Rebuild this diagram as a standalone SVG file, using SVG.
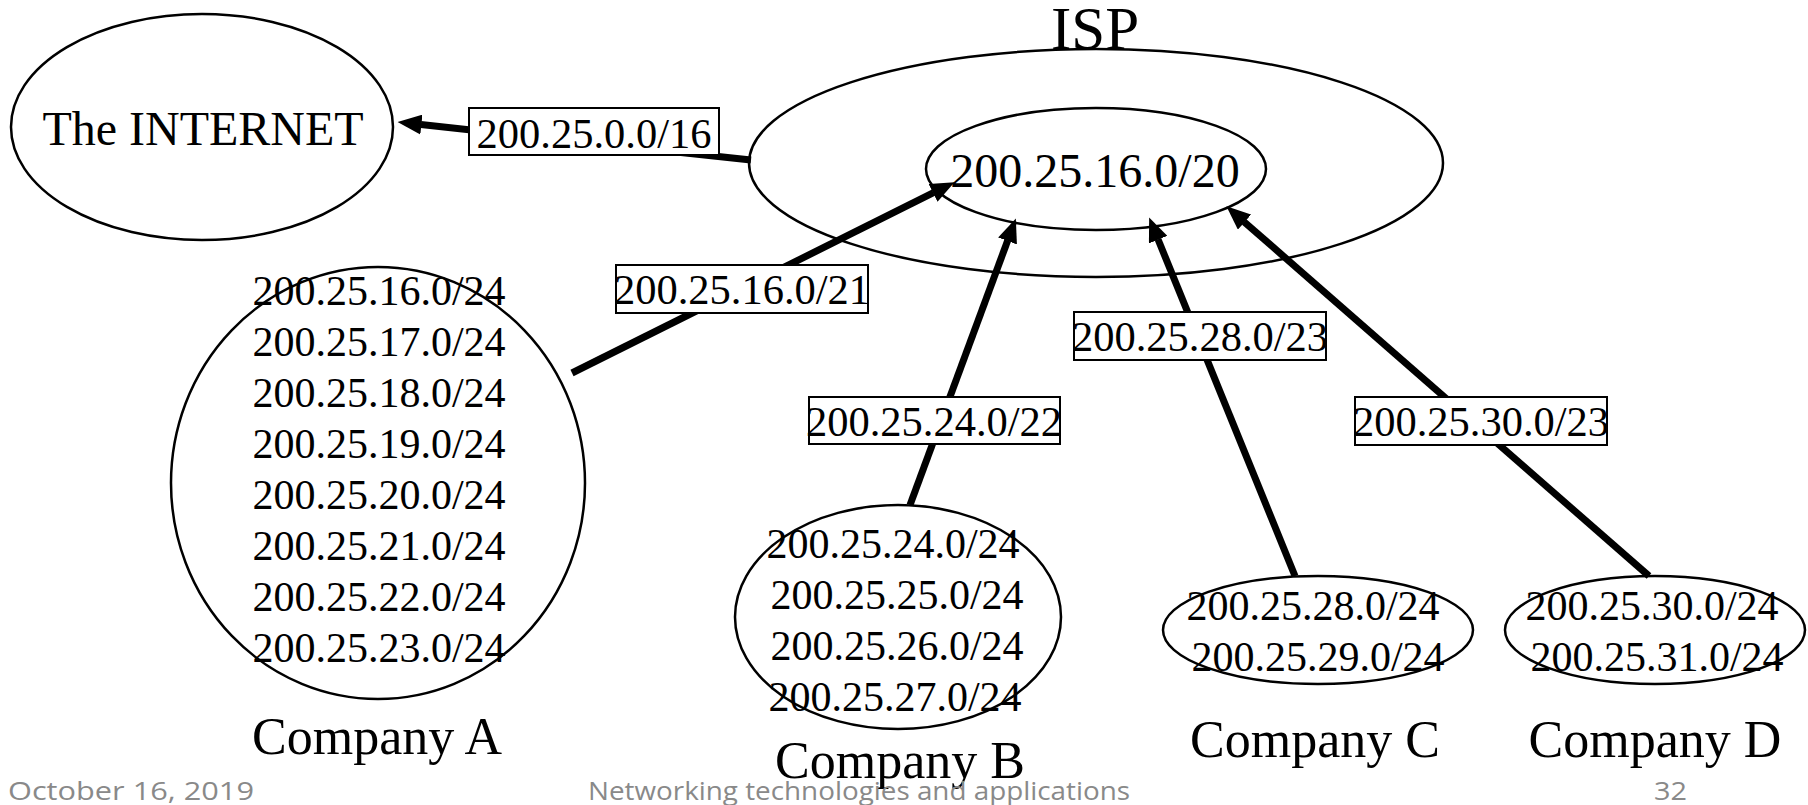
<svg xmlns="http://www.w3.org/2000/svg" width="1808" height="805" viewBox="0 0 1808 805">
<style>
  .ell { fill: none; stroke: #000; stroke-width: 2.5; }
  .t { font-family: "Liberation Serif", "Times New Roman", serif; fill: #000; text-anchor: middle; }
  .big { font-size: 48px; }
  .isp { font-size: 61px; }
  .row { font-size: 42px; }
  .co { font-size: 52px; }
  .lbl { fill: #fff; stroke: #000; stroke-width: 2; }
  .lt { font-size: 42.5px; }
  .conn { stroke: #000; stroke-width: 7; fill: none; marker-end: url(#ah); }
  .foot { font-family: "Open Sans", "Liberation Sans", sans-serif; font-size: 26px; fill: #898989; }
</style>
<defs>
  <marker id="ah" markerUnits="userSpaceOnUse" markerWidth="24" markerHeight="20" viewBox="0 0 24 20" refX="0.5" refY="10" orient="auto">
    <path d="M0,0 L24,10 L0,20 Z" fill="#000"/>
  </marker>
</defs>
<rect width="1808" height="805" fill="#fff"/>

<g id="internet">
  <ellipse class="ell" cx="202" cy="127" rx="191" ry="113"/>
  <text class="t big" x="203" y="145">The INTERNET</text>
</g>

<g id="isp">
  <text class="t isp" x="1095" y="49">ISP</text>
  <ellipse class="ell" cx="1096" cy="163" rx="347" ry="114"/>
  <ellipse class="ell" cx="1096" cy="169" rx="170" ry="61"/>
  <text class="t big" x="1095" y="187">200.25.16.0/20</text>
</g>

<g id="company-a">
  <ellipse class="ell" cx="378" cy="483" rx="207" ry="216"/>
  <text class="t row" x="379" y="305">200.25.16.0/24</text>
  <text class="t row" x="379" y="356">200.25.17.0/24</text>
  <text class="t row" x="379" y="407">200.25.18.0/24</text>
  <text class="t row" x="379" y="458">200.25.19.0/24</text>
  <text class="t row" x="379" y="509">200.25.20.0/24</text>
  <text class="t row" x="379" y="560">200.25.21.0/24</text>
  <text class="t row" x="379" y="611">200.25.22.0/24</text>
  <text class="t row" x="379" y="662">200.25.23.0/24</text>
  <text class="t co" x="377" y="754">Company A</text>
</g>

<g id="company-b">
  <ellipse class="ell" cx="898" cy="617" rx="163" ry="112"/>
  <text class="t row" x="893" y="558">200.25.24.0/24</text>
  <text class="t row" x="897" y="609">200.25.25.0/24</text>
  <text class="t row" x="897" y="660">200.25.26.0/24</text>
  <text class="t row" x="895" y="711">200.25.27.0/24</text>
  <text class="t co" x="900" y="778">Company B</text>
</g>

<g id="company-c">
  <ellipse class="ell" cx="1318" cy="630" rx="155" ry="54"/>
  <text class="t row" x="1313" y="620">200.25.28.0/24</text>
  <text class="t row" x="1318" y="671">200.25.29.0/24</text>
  <text class="t co" x="1315" y="757">Company C</text>
</g>

<g id="company-d">
  <ellipse class="ell" cx="1655" cy="630" rx="150" ry="54"/>
  <text class="t row" x="1652" y="620">200.25.30.0/24</text>
  <text class="t row" x="1657" y="671">200.25.31.0/24</text>
  <text class="t co" x="1655" y="757">Company D</text>
</g>

<g id="connectors">
  <line class="conn" x1="751" y1="160" x2="420.9" y2="124.6"/>
  <line class="conn" x1="572" y1="373" x2="933.5" y2="192.7"/>
  <line class="conn" x1="910" y1="505" x2="1007.7" y2="240.5"/>
  <line class="conn" x1="1295" y1="576" x2="1158" y2="239.2"/>
  <line class="conn" x1="1649" y1="576" x2="1244.1" y2="221.8"/>
  <g id="labels">
    <rect class="lbl" x="469" y="108" width="250" height="47"/>
    <text class="t lt" x="594" y="148">200.25.0.0/16</text>
    <rect class="lbl" x="616" y="265" width="252" height="48"/>
    <text class="t lt" x="742" y="304">200.25.16.0/21</text>
    <rect class="lbl" x="809" y="397" width="251" height="47"/>
    <text class="t lt" x="934" y="436">200.25.24.0/22</text>
    <rect class="lbl" x="1074" y="312" width="252" height="48"/>
    <text class="t lt" x="1200" y="351">200.25.28.0/23</text>
    <rect class="lbl" x="1355" y="397" width="252" height="48"/>
    <text class="t lt" x="1481" y="436">200.25.30.0/23</text>
  </g>
</g>

<g id="footer">
  <text class="foot" x="8" y="800" textLength="246" lengthAdjust="spacingAndGlyphs">October 16, 2019</text>
  <text class="foot" x="588" y="800" textLength="542" lengthAdjust="spacingAndGlyphs">Networking technologies and applications</text>
  <text class="foot" x="1654" y="800" textLength="33" lengthAdjust="spacingAndGlyphs">32</text>
</g>
</svg>
